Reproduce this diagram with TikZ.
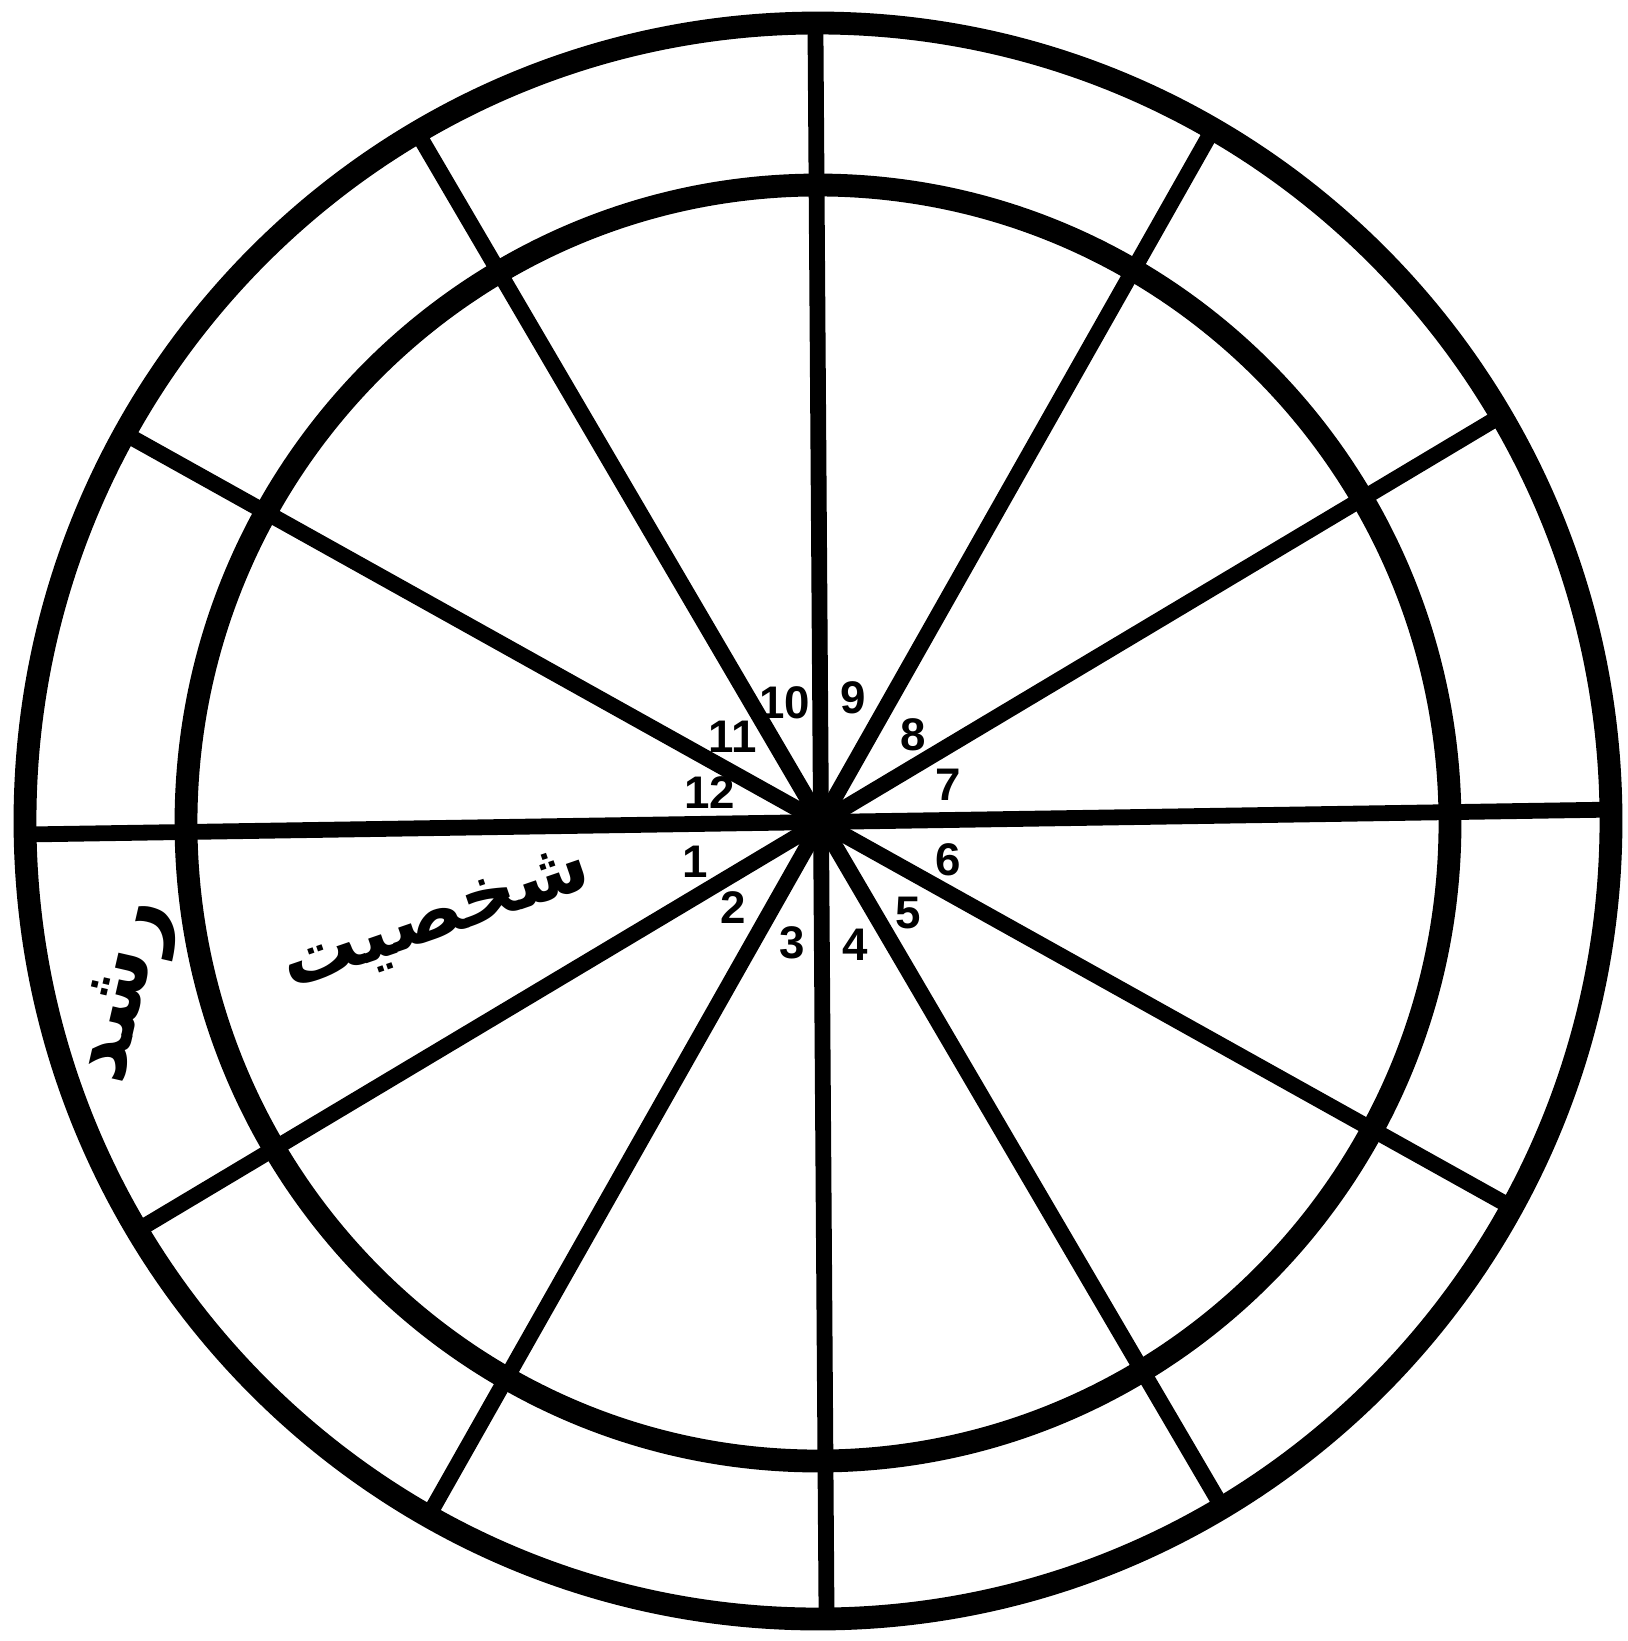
\documentclass[tikz,border=0pt]{standalone}
\usepackage{fontspec}
\usetikzlibrary{calc}
\setmainfont{Liberation Sans}
\newfontfamily\arabicfont[Script=Arabic]{DejaVu Sans}
\TeXXeTstate=1
\begin{document}
\begin{tikzpicture}[x=0.02cm,y=-0.02cm,
  ringline/.style={line width=13pt},
  spokeline/.style={line width=9pt},
  numlabel/.style={font=\fontsize{26}{26}\selectfont\bfseries, inner sep=0pt},
  wordlabel/.style={inner sep=0pt}]
\useasboundingbox[fill=white] (0,0) rectangle (1628,1641);
\coordinate (c) at (821,822);
% spokes (six diameters, slightly skewed as in the scan)
\foreach \a in {0.9,30.85,60.5,90.4,120.35,150.85}{
  \draw[spokeline] ($(c)+(-\a:795)$) -- ($(c)+(180-\a:795)$);
}
% rings
\draw[ringline] (818,821) ellipse [x radius=793, y radius=798];
\draw[ringline] (818,823) ellipse [x radius=632, y radius=638];
% hub
\fill (c) circle [radius=24];
% sector numbers
\node[numlabel] (n1)  at (695,862) {1};
\node[numlabel] (n2)  at (733,908) {2};
\node[numlabel] (n3)  at (792,943) {3};
\node[numlabel] (n4)  at (855,945) {4};
\node[numlabel] (n5)  at (908,913) {5};
\node[numlabel] (n6)  at (948,860) {6};
\node[numlabel] (n7)  at (948,785) {7};
\node[numlabel] (n8)  at (913,735) {8};
\node[numlabel] (n9)  at (853,698) {9};
\node[numlabel] (n10) at (785,703) {10};
\node[numlabel] (n11) at (733,737) {11};
\node[numlabel] (n12) at (710,793) {12};
% words
\node[wordlabel, rotate=19] (shakhsiyat) at (437,922)
  {\fontsize{44}{44}\selectfont\arabicfont\bfseries\beginR شخصیت\endR};
\node[wordlabel, rotate=77] (roshd) at (128,992)
  {\fontsize{50}{50}\selectfont\arabicfont\bfseries\beginR رشد\endR};
\end{tikzpicture}
\end{document}
